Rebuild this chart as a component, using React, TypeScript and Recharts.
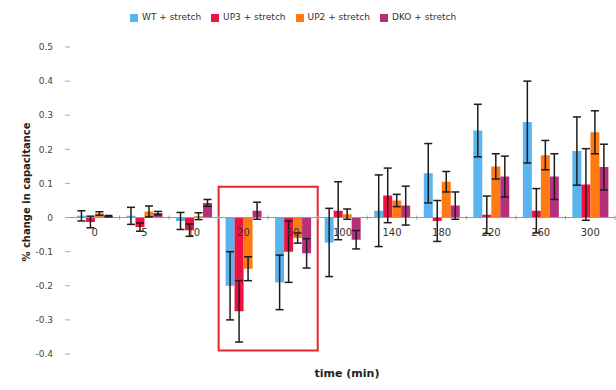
import React from 'react';
import {
  BarChart,
  Bar,
  XAxis,
  YAxis,
  ErrorBar,
  Legend,
  ReferenceLine,
  ReferenceArea,
} from 'recharts';

const times = ['0', '5', '10', '20', '60', '100', '140', '180', '220', '260', '300'];

const wt = [0.005, 0.005, -0.01, -0.2, -0.19, -0.073, 0.02, 0.13, 0.255, 0.28, 0.195];
const wtErr = [0.015, 0.025, 0.025, 0.1, 0.08, 0.1, 0.105, 0.087, 0.077, 0.12, 0.1];

const up3 = [-0.013, -0.028, -0.037, -0.275, -0.1, 0.02, 0.065, -0.01, 0.008, 0.02, 0.097];
const up3Err = [0.017, 0.012, 0.018, 0.09, 0.09, 0.085, 0.08, 0.06, 0.055, 0.065, 0.105];

const up2 = [0.012, 0.018, 0.004, -0.15, -0.06, 0.01, 0.05, 0.105, 0.15, 0.183, 0.25];
const up2Err = [0.005, 0.016, 0.01, 0.035, 0.015, 0.015, 0.018, 0.03, 0.037, 0.043, 0.063];

const dko = [0.004, 0.013, 0.043, 0.02, -0.105, -0.065, 0.035, 0.035, 0.12, 0.12, 0.148];
const dkoErr = [0.002, 0.005, 0.01, 0.025, 0.043, 0.027, 0.057, 0.04, 0.06, 0.067, 0.067];

const seriesNames = ['WT + stretch', 'UP3 + stretch', 'UP2 + stretch', 'DKO + stretch'];
const yTicks = [-0.4, -0.3, -0.2, -0.1, 0, 0.1, 0.2, 0.3, 0.4, 0.5];

const data = times.map((t, i) => ({
  t,
  wt: wt[i],
  wtErr: wtErr[i],
  up3: up3[i],
  up3Err: up3Err[i],
  up2: up2[i],
  up2Err: up2Err[i],
  dko: dko[i],
  dkoErr: dkoErr[i],
}));

const FONT = '"DejaVu Sans", Verdana, sans-serif';
const W = 616;
const H = 390;
const PLOT_TOP = 47;
const LEGEND_H = 10; // legend height recharts adds on top of margin.top
const PLOT_H = 307;
const PLOT_LEFT = 70;
const PLOT_RIGHT = 1;
const Y_MIN = -0.4;
const Y_MAX = 0.5;
// the category labels sit just under the zero line, not at the bottom
const ZERO_Y = PLOT_TOP + (Y_MAX / (Y_MAX - Y_MIN)) * PLOT_H;
const BAND = (W - PLOT_LEFT - PLOT_RIGHT) / times.length;

const TimeTick = ({ x, payload }: any) => (
  <g>
    <text
      x={x}
      y={ZERO_Y + 18}
      textAnchor="middle"
      fontSize={10}
      fontFamily={FONT}
      fill="#333"
    >
      {payload.value}
    </text>
    <line x1={x + BAND / 2} x2={x + BAND / 2} y1={ZERO_Y - 2} y2={ZERO_Y + 2} stroke="#999" />
  </g>
);

const errStyle = { stroke: '#1c1c1c', strokeWidth: 1.5 };

export default function App() {
  return (
    <div style={{ position: 'absolute', left: 0, top: 0, width: W, height: H, background: '#fff' }}>
      <BarChart
        width={W}
        height={H}
        data={data}
        margin={{ top: PLOT_TOP - LEGEND_H, right: PLOT_RIGHT, left: 0, bottom: 6 }}
        barGap={0}
        barCategoryGap="14%"
      >
        <XAxis
          dataKey="t"
          axisLine={false}
          tickLine={false}
          height={30}
          tick={<TimeTick />}
          interval={0}
          label={{
            content: () => (
              <text
                x={347}
                y={377}
                textAnchor="middle"
                fontSize={11}
                fontWeight="bold"
                fontFamily={FONT}
                fill="#222"
              >
                time (min)
              </text>
            ),
          }}
        />
        <YAxis
          width={PLOT_LEFT}
          domain={[Y_MIN, Y_MAX]}
          ticks={yTicks}
          allowDataOverflow
          axisLine={false}
          tickSize={5}
          tickMargin={12}
          tickLine={{ stroke: '#aaa' }}
          tick={{ fontSize: 9, fontFamily: FONT, fill: '#444' }}
          tickFormatter={(v: number) => (v === 0 ? '0' : v.toFixed(1))}
          label={{
            content: () => (
              <text
                x={30}
                y={192}
                transform="rotate(-90 30 192)"
                textAnchor="middle"
                fontSize={10}
                fontWeight="bold"
                fontFamily={FONT}
                fill="#222"
              >
                % change in capacitance
              </text>
            ),
          }}
        />
        <Legend
          verticalAlign="top"
          align="left"
          iconType="square"
          iconSize={8}
          itemSorter={(item: any) => seriesNames.indexOf(item.value)}
          wrapperStyle={{ top: 12, left: 130, fontSize: 9, fontFamily: FONT, color: '#333' }}
          formatter={(value: string) => <span style={{ color: '#333' }}>{value}</span>}
        />
        <ReferenceLine y={0} stroke="#999" />
        <Bar dataKey="wt" name={seriesNames[0]} fill="#5AB4EE" isAnimationActive={false}>
          <ErrorBar dataKey="wtErr" width={4} {...errStyle} />
        </Bar>
        <Bar dataKey="up3" name={seriesNames[1]} fill="#EE1144" isAnimationActive={false}>
          <ErrorBar dataKey="up3Err" width={4} {...errStyle} />
        </Bar>
        <Bar dataKey="up2" name={seriesNames[2]} fill="#FF7A12" isAnimationActive={false}>
          <ErrorBar dataKey="up2Err" width={4} {...errStyle} />
        </Bar>
        <Bar dataKey="dko" name={seriesNames[3]} fill="#B5307A" isAnimationActive={false}>
          <ErrorBar dataKey="dkoErr" width={4} {...errStyle} />
        </Bar>
        <ReferenceArea
          x1="20"
          x2="60"
          y1={-0.39}
          y2={0.09}
          fill="none"
          stroke="#E3262C"
          strokeWidth={2}
          ifOverflow="visible"
        />
      </BarChart>
    </div>
  );
}
